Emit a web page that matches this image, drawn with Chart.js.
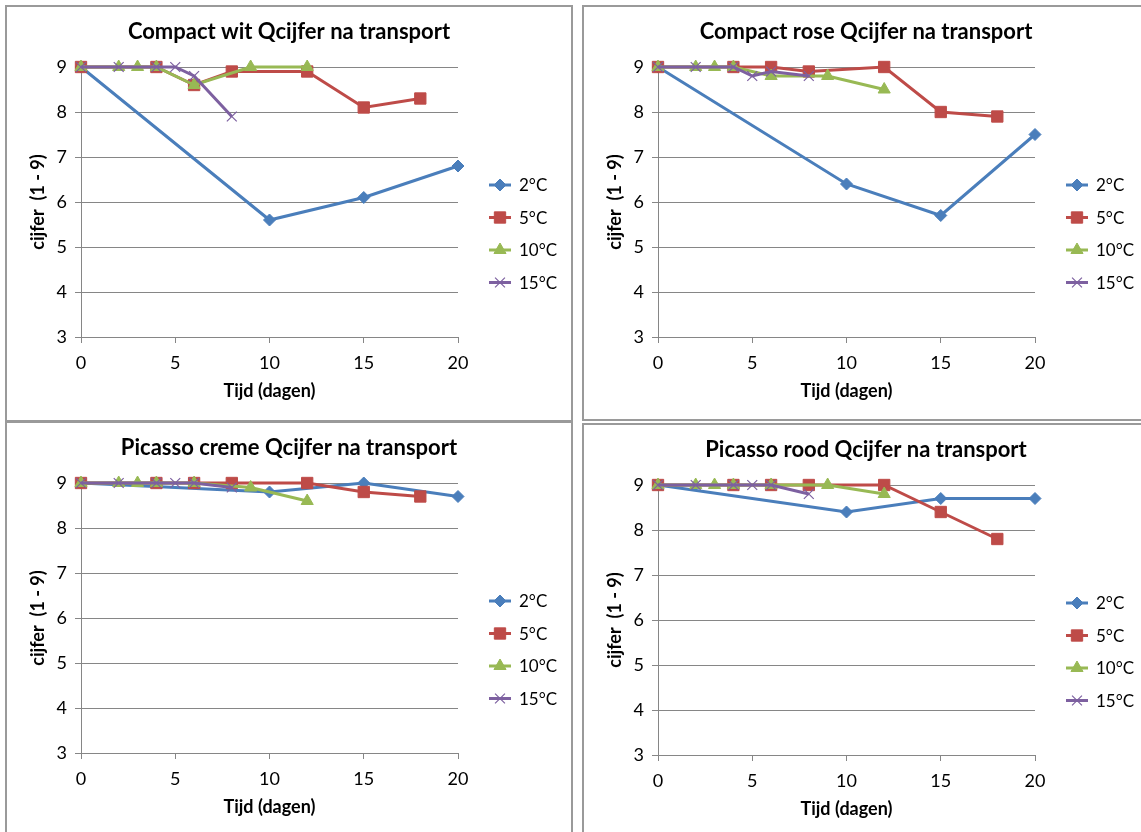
<!DOCTYPE html>
<html>
<head>
<meta charset="utf-8">
<script src="https://cdn.jsdelivr.net/npm/chart.js@4.4.1/dist/chart.umd.min.js"></script>
<style>
  body { margin: 0; background: #fff; width: 1141px; height: 832px; overflow: hidden; position: relative; }
  .panel { position: absolute; border: 2px solid #9a9a9a; box-sizing: border-box; }
  .panel canvas { position: absolute; left: -2px; top: -2px; }
</style>
</head>
<body>
<div class="panel" style="left:5px;top:5px;width:568px;height:417px"><canvas id="c1"></canvas></div>
<div class="panel" style="left:582px;top:5px;width:570px;height:416px"><canvas id="c2"></canvas></div>
<div class="panel" style="left:5px;top:421px;width:568px;height:420px"><canvas id="c3"></canvas></div>
<div class="panel" style="left:582px;top:423px;width:570px;height:420px"><canvas id="c4"></canvas></div>
<script>
// temperaturen + meetdagen per reeks
const seriesLabels = ["2°C", "5°C", "10°C", "15°C"];
const days2 = [0, 10, 15, 20];
const days5 = [0, 4, 6, 8, 12, 15, 18];
const days10 = [0, 2, 3, 4, 6, 9, 12];
const days15 = [0, 2, 4, 5, 6, 8];
const yTicks = [3, 4, 5, 6, 7, 8, 9];
const xTicks = [0, 5, 10, 15, 20];

// Compact wit
const witT2 = [9, 5.6, 6.1, 6.8];
const witT5 = [9, 9, 8.6, 8.9, 8.9, 8.1, 8.3];
const witT10 = [9, 9, 9, 9, 8.6, 9, 9];
const witT15 = [9, 9, 9, 9, 8.8, 7.9];

// Compact rose
const roseT2 = [9, 6.4, 5.7, 7.5];
const roseT5 = [9, 9, 9, 8.9, 9, 8, 7.9];
const roseT10 = [9, 9, 9, 9, 8.8, 8.8, 8.5];
const roseT15 = [9, 9, 9, 8.8, 8.9, 8.8];

// Picasso creme
const cremeT2 = [9, 8.8, 9, 8.7];
const cremeT5 = [9, 9, 9, 9, 9, 8.8, 8.7];
const cremeT10 = [9, 9, 9, 9, 9, 8.9, 8.6];
const cremeT15 = [9, 9, 9, 9, 9, 8.9];

// Picasso rood
const roodT2 = [9, 8.4, 8.7, 8.7];
const roodT5 = [9, 9, 9, 9, 9, 8.4, 7.8];
const roodT10 = [9, 9, 9, 9, 9, 9, 8.8];
const roodT15 = [9, 9, 9, 9, 9, 8.8];

const colors = ["#4a7ebb", "#be4b48", "#98b954", "#7d60a0"];
const markers = ["rectRot", "rect", "triangle", "crossRot"];
const radii = [6, 8, 7, 7];
const allDays = [days2, days5, days10, days15];
const FONT = "Lato, 'Open Sans', sans-serif";

const toPoints = (days, vals) => days.map((d, i) => ({ x: d, y: vals[i] }));

// titel + legenda zoals in Excel (lijn met marker)
const extrasPlugin = {
  id: "extras",
  afterDraw(chart) {
    const ctx = chart.ctx;
    const opts = chart.options.plugins.extras;
    ctx.save();
    ctx.fillStyle = "#000";
    ctx.font = "bold 22px " + FONT;
    ctx.textAlign = "center";
    ctx.textBaseline = "middle";
    ctx.fillText(opts.title, chart.width / 2, 27);

    ctx.font = "17px " + FONT;
    ctx.textAlign = "left";
    chart.data.datasets.forEach((ds, i) => {
      const y = 180 + i * 32.5;
      ctx.strokeStyle = ds.borderColor;
      ctx.lineWidth = 3;
      ctx.beginPath();
      ctx.moveTo(484, y);
      ctx.lineTo(506, y);
      ctx.stroke();
      ctx.fillStyle = ds.pointBackgroundColor;
      ctx.strokeStyle = ds.pointBorderColor;
      ctx.lineWidth = ds.pointBorderWidth;
      Chart.helpers.drawPoint(ctx, { pointStyle: ds.pointStyle, radius: ds.pointRadius, rotation: 0, borderWidth: ds.pointBorderWidth }, 495, y);
      ctx.fillStyle = "#000";
      ctx.fillText(ds.label, 514, y + 1);
    });
    ctx.restore();
  }
};

function makeChart(id, title, values) {
  const canvas = document.getElementById(id);
  canvas.width = 568;
  canvas.height = 416;
  const datasets = values.map((vals, i) => ({
    label: seriesLabels[i],
    data: toPoints(allDays[i], vals),
    borderColor: colors[i],
    backgroundColor: colors[i],
    pointBackgroundColor: colors[i],
    pointBorderColor: colors[i],
    pointBorderWidth: i === 3 ? 1.2 : 1,
    pointStyle: markers[i],
    pointRadius: radii[i],
    borderWidth: 3,
    showLine: true,
    tension: 0,
    clip: false,
    order: 4 - i
  }));

  return new Chart(canvas.getContext("2d"), {
    type: "scatter",
    data: { datasets },
    options: {
      responsive: false,
      animation: false,
      devicePixelRatio: 1,
      layout: { autoPadding: false, padding: { top: 62, left: 20, right: 115, bottom: 19 } },
      plugins: {
        legend: { display: false },
        tooltip: { enabled: false },
        extras: { title }
      },
      scales: {
        x: {
          type: "linear",
          min: 0,
          max: 20,
          afterFit: (s) => { s.height = 65; },
          afterBuildTicks: (s) => { s.ticks = xTicks.map((v) => ({ value: v })); },
          grid: { drawOnChartArea: false, drawTicks: true, tickLength: 6, tickColor: "#868686" },
          border: { display: true, color: "#868686", width: 1 },
          ticks: { color: "#000", font: { family: FONT, size: 18 }, padding: 9, maxRotation: 0 },
          title: { display: true, text: "Tijd (dagen)", color: "#000", font: { family: FONT, size: 18, weight: "bold" }, padding: { top: 4, bottom: 0 } }
        },
        y: {
          min: 3,
          max: 9,
          afterFit: (s) => { s.width = 56; },
          afterBuildTicks: (s) => { s.ticks = yTicks.map((v) => ({ value: v })); },
          grid: { color: "#868686", lineWidth: 1, drawTicks: true, tickLength: 6, tickColor: "#868686" },
          border: { display: true, color: "#868686", width: 1 },
          ticks: { color: "#000", font: { family: FONT, size: 18 }, padding: 8 },
          title: { display: true, text: "cijfer  (1 - 9)", color: "#000", font: { family: FONT, size: 18, weight: "bold" }, padding: { top: 2, bottom: 0 } }
        }
      }
    },
    plugins: [extrasPlugin]
  });
}

makeChart("c1", "Compact wit Qcijfer na transport", [witT2, witT5, witT10, witT15]);
makeChart("c2", "Compact rose Qcijfer na transport", [roseT2, roseT5, roseT10, roseT15]);
makeChart("c3", "Picasso creme Qcijfer na transport", [cremeT2, cremeT5, cremeT10, cremeT15]);
makeChart("c4", "Picasso rood Qcijfer na transport", [roodT2, roodT5, roodT10, roodT15]);
</script>
</body>
</html>
